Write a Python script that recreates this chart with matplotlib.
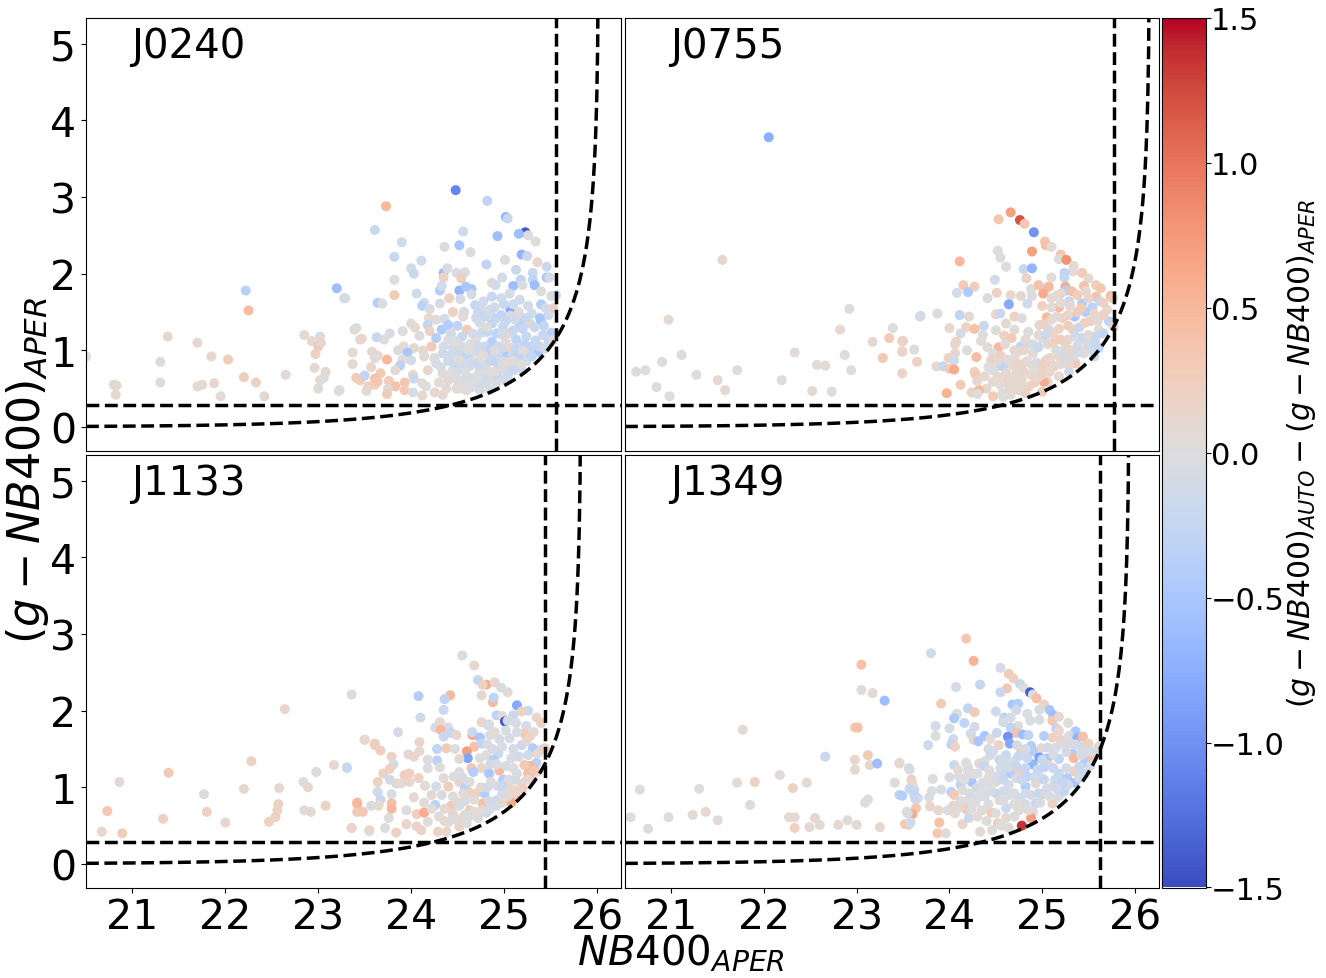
import numpy as np
from matplotlib import pyplot as plt
from matplotlib.cm import ScalarMappable
from matplotlib.colors import Normalize

# values: (NB400_APER, colour, colour difference)

j0240_points = [
 (20.5,.92,.05),(20.8,.55,.1),(20.83,.54,.1),(20.82,.42,.1),(21.3,.85,-.05),(21.3,.58,.02),(21.38,1.18,.1),
 (21.7,1.1,.1),(21.7,.53,.1),(21.75,.55,.1),(21.85,.92,.1),(21.88,.57,.15),(21.95,.4,.05),(22.03,.88,.25),
 (22.2,.65,.25),(22.22,1.78,-.35),(22.25,1.52,.45),(22.33,.58,.2),(22.42,.4,.1),(22.65,.68,.05),(22.85,1.2,.1),
 (22.93,1.12,.1),(23.0,.5,.05),(23.02,1.18,-.05),(23.0,1.05,.3),(23.03,1.1,.15),(22.97,.95,.2),(23.08,.72,.1),
 (23.39,1.27,.1),(23.45,1.14,.05),(23.58,.98,.1),(23.64,.93,.15),(23.67,.7,.3),(23.45,.61,.3),(23.61,.55,.2),
 (23.23,.48,0),(23.02,.61,.1),(23.37,.97,.05),(22.96,.77,.1),(23.28,1.68,-.1),
 (24.48,3.09,-1.1),(23.73,2.88,.5),(24.82,2.95,-.3),(25.02,2.74,-.7),(25.04,2.72,-.2),(25.23,2.54,-1.4),
 (25.16,2.52,-.6),(25.26,2.5,0),(25.34,2.42,0),(24.93,2.49,-.6),(24.56,2.55,-.15),(23.61,2.57,-.2),(23.9,2.41,-.15),
 (24.36,2.35,-.03),(24.52,2.37,-.5),(24.64,2.28,0),(23.82,2.22,-.2),(24.11,2.17,-.15),(24.0,2.07,-.1),(24.03,2.0,-.2),
 (25.19,2.25,-.7),(25.25,2.23,-.2),(25.01,2.18,0),(25.36,2.15,.15),(24.81,2.12,-.3),(25.46,2.09,-.2),(25.13,2.05,-.2),
 (24.35,2.01,-.6),(24.39,2.07,-.05),(24.49,2.01,-.05),(24.58,2.02,-.05),(24.35,1.95,.2),(24.54,1.94,.25),(23.82,1.92,0),
 (25.31,2.01,-.2),(25.31,1.92,-.3),(25.46,1.95,-.5),(25.49,1.95,-.1),(25.18,1.92,-.3),(24.98,1.95,-.1),(24.87,1.88,.1),
 (24.91,1.85,-.15),(25.1,1.84,-.6),(25.2,1.85,0),(25.33,1.85,-.6),(23.2,1.81,-.6),(23.29,1.68,-.1),(23.82,1.72,.3),
 (23.64,1.62,-.4),(23.69,1.61,0),(24.06,1.74,-.15),(24.31,1.78,-.4),(24.33,1.84,-.15),(24.52,1.78,-.7),(24.59,1.83,-.5),
 (24.65,1.8,-.5),(24.65,1.73,-.1),(24.41,1.68,.2),(24.53,1.67,-.1),(24.14,1.62,-.1),(24.12,1.58,-.35),(24.2,1.54,-.05),
 (24.31,1.61,-.05),(24.45,1.5,.2),(24.57,1.5,-.1),(24.56,1.44,.05),(24.69,1.59,-.2),(24.78,1.64,-.15),(24.87,1.7,-.2),
 (24.97,1.68,-.15),(25.06,1.74,-.1),(25.17,1.66,-.15),(25.4,1.77,0),(25.51,1.71,0),(25.56,1.72,-.1),(25.4,1.6,-.4),
 (25.53,1.55,.2),(25.07,1.53,-.8),(24.85,1.53,-.1),(24.76,1.53,-.1),(24.97,1.46,-.3),(25.07,1.45,-.05),(25.17,1.44,.05),
 (25.3,1.48,-.15),(25.39,1.42,-.5),(25.4,1.37,-.5),(25.48,1.46,-.15),(24.74,1.36,-.1),(24.87,1.35,-.3),(24.99,1.31,-.2),
 (25.17,1.35,-.35),(25.28,1.35,.1),(24.19,1.42,.1),(24.27,1.4,.05),(24.36,1.41,-.1),(24.0,1.35,0),(24.04,1.3,.1),
 (24.18,1.33,-.25),(24.4,1.33,-.4),(24.5,1.32,-.3),(24.33,1.27,-.45),(24.2,1.25,.2),(24.6,1.27,.3),(23.41,1.29,0),
 (23.47,1.15,.15),(23.63,1.17,-.2),(23.71,1.14,0),(23.77,1.22,-.05),(23.91,1.25,0),(24.09,1.19,-.02),(24.27,1.16,-.4),
 (24.4,1.14,-.05),(24.43,1.22,-.1),(24.55,1.18,-.2),(24.7,1.16,0),(24.87,1.11,-.4),(25.05,1.22,.1),(25.13,1.14,-.3),
 (25.24,1.18,-.2),(25.51,1.23,-.35),(25.48,1.11,-.2),(25.53,1.13,0),(24.22,1.05,.3),(23.86,1.0,-.05),(23.92,1.05,.05),
 (24.03,1.03,.1),(23.96,.97,-.5),(24.13,1.0,.1),(24.14,.92,.05),(23.91,.88,.05),(24.0,.87,-.1),(23.61,.9,0),(23.74,.88,.5),
 (23.37,.82,.1),(23.57,.78,.15),(23.88,.8,-.35),(23.83,.74,.1),(24.18,.74,.15),(23.5,.67,-.3),(23.41,.64,.3),(23.61,.63,.4),
 (23.64,.59,.35),(23.76,.6,.25),(23.83,.53,.4),(23.93,.58,.35),(23.93,.48,.3),(24.02,.68,.1),(24.03,.63,-.2),(23.54,.53,.2),
 (23.52,.47,.1),(23.75,.5,.05),(23.74,.43,.3),(23.22,.47,0),(23.06,.64,0),(24.12,.57,.05),(24.16,.53,0),(24.02,.45,-.05),
 (24.12,.41,.1),(24.255,.45,.1),(24.34,.42,.1),(24.27,.83,-.1),(24.34,.96,-.15),(24.43,.94,-.15),(24.52,.96,-.2),
 (24.61,.93,-.3),(24.7,.98,-.1),(24.78,.96,.1),(24.88,.94,-.2),(24.97,.96,-.2),(25.04,.93,-.45),(25.17,1.03,.1),
 (25.26,.97,.1),(25.37,.98,-.5),(25.13,.84,.4),(25.21,.92,-.2),(25.19,.75,-.2),(25.06,.79,-.1),(24.95,.74,-.15),
 (24.85,.7,.1),(24.74,.74,-.15),(24.63,.79,-.1),(24.52,.74,-.1),(24.45,.74,-.05),(24.34,.7,.1),(24.4,.61,.05),(24.51,.57,.02),
 (24.6,.66,-.1),(24.7,.57,-.15),(24.81,.57,-.05),(24.92,.57,-.1),(25.04,.66,-.15),(24.49,.5,.05),(24.6,.48,.05),(24.74,.48,-.1),(24.85,.48,-.05),
]

j0240_dense = [
 (24.3,.58,.05),(24.38,.5,.05),(24.45,.64,.02),(24.55,.5,.02),(24.57,.58,-.05),(24.65,.52,-.02),(24.68,.64,-.1),(24.76,.56,-.1),
 (24.8,.66,-.15),(24.88,.62,-.05),(24.92,.68,-.2),(25.0,.62,-.1),(25.02,.74,-.15),(25.1,.74,-.2),(25.14,.92,-.1),(25.24,.86,-.1),
 (25.3,.92,-.25),(25.38,1.05,-.2),(25.44,1.02,-.15),(24.25,.9,-.02),(24.32,.78,-.05),(24.4,.86,-.15),(24.47,.84,-.2),(24.55,.84,-.1),
 (24.58,1.04,-.1),(24.65,.86,-.15),(24.72,.82,-.2),(24.8,.82,-.1),(24.85,.86,-.2),(24.92,.84,-.25),(24.98,.86,-.1),(25.03,.84,.05),
 (25.09,.94,-.2),(25.15,.92,-.3),(25.3,1.05,-.3),(24.35,1.05,-.1),(24.45,1.03,-.1),(24.52,1.07,-.05),(24.64,1.08,-.02),(24.72,1.06,-.15),
 (24.8,1.05,-.2),(24.86,1.02,-.35),(24.94,1.05,-.2),(25.0,1.04,-.15),(25.07,1.03,.1),(25.13,1.02,-.25),(25.22,1.08,-.3),(25.34,1.13,-.2),
 (25.42,1.2,-.2),(24.66,1.22,-.1),(24.76,1.23,-.15),(24.82,1.24,-.25),(24.92,1.22,-.3),(24.98,1.2,-.15),(25.1,1.26,-.2),(25.2,1.28,-.25),
 (25.33,1.3,-.2),(25.43,1.32,-.25),(24.7,1.42,-.15),(24.8,1.44,-.2),(24.86,1.46,-.15),(24.92,1.42,-.25),(25.02,1.38,-.2),(25.12,1.4,-.15),
 (25.24,1.42,-.2),(24.72,1.5,-.2),(24.9,1.56,-.15),(25.0,1.6,-.2),(25.1,1.6,-.15),(25.26,1.58,-.1),(25.45,1.55,-.1),
 (24.42,.68,.02),(24.5,.62,0),(24.58,.72,-.02),(24.66,.58,.02),(24.72,.68,0),(24.82,.74,.02),(24.9,.72,.05),(24.98,.78,-.02),(25.1,.86,.02),
 (25.18,.82,0),(24.5,.88,0),(24.62,1.0,0),(24.75,.9,.02),(24.9,1.0,0),(25.02,1.1,.05),(25.2,1.0,0),(24.48,1.12,0),(24.82,1.3,0),(25.16,1.5,0),
]

j0755_points = [
 (22.05,3.78,-.75),(21.55,2.18,.1),(20.97,1.4,.1),(20.62,.72,-.02),(20.72,.74,-.02),(20.9,.85,.02),(21.11,.94,.02),
 (20.84,.52,0),(20.98,.4,.05),(21.27,.68,.02),(21.5,.61,.1),(21.58,.48,.1),(21.71,.74,0),(22.19,.61,.05),(22.33,.97,.05),
 (22.57,.81,.05),(22.66,.8,.05),(22.52,.47,.1),(22.73,.46,.05),(22.82,1.27,.1),(22.94,.74,-.02),(22.87,.94,0),(22.92,1.54,.02),
 (23.17,1.11,.1),(23.28,.9,.35),(23.35,1.16,.3),(23.39,1.29,0),(23.49,1.12,.3),(23.49,.98,.2),(23.49,.7,.15),(23.68,1.44,.02),(23.65,.85,.2),
 (24.66,2.8,.7),(24.53,2.71,.35),(24.76,2.7,1.2),(24.81,2.65,.35),(24.91,2.54,-1.0),(25.03,2.42,.35),(25.04,2.37,.4),(25.1,2.35,.05),
 (24.89,2.29,.7),(24.52,2.3,0),(24.55,2.21,0),(24.11,2.16,.5),(24.61,2.09,-.02),(24.8,2.06,-.2),(24.89,2.07,-.7),(25.2,2.25,.35),
 (25.18,2.19,0),(25.26,2.18,.8),(25.34,2.1,.1),(25.33,2.03,.05),(25.43,2.01,.3),(25.24,2.01,-.3),(25.24,1.95,-.25),(24.83,1.94,.2),
 (25.1,1.95,.05),(24.49,1.92,-.1),(25.5,1.94,.1),(24.15,1.85,.3),(24.27,1.83,.25),(24.08,1.75,-.1),(24.2,1.76,-.45),(24.41,1.68,0),
 (24.51,1.75,.2),(24.66,1.72,.15),(24.77,1.71,.1),(24.89,1.71,.03),(24.88,1.8,0),(24.96,1.85,.4),(25.04,1.8,-.3),(25.07,1.83,.5),
 (25.01,1.74,.6),(25.25,1.83,.6),(25.26,1.78,-.4),(25.32,1.77,.4),(25.45,1.84,.4),(25.58,1.85,.25),(25.63,1.81,.35),(25.74,1.71,.45),
 (25.76,1.68,.35),(25.47,1.77,.1),(25.58,1.7,.4),(24.64,1.6,-.8),(24.84,1.61,-.15),(25.0,1.58,.2),(25.18,1.56,.5),(25.29,1.64,-.2),
 (25.43,1.61,-.4),(25.62,1.64,-.2),(25.54,1.56,-.3),(25.47,1.5,-.4),(25.35,1.44,-.5),(25.7,1.53,.1),(23.69,1.45,-.1),(23.87,1.48,0),
 (24.11,1.46,-.3),(24.21,1.44,.1),(24.5,1.47,.15),(24.55,1.48,-.2),(24.7,1.44,.2),(24.78,1.42,-.02),(25.05,1.43,.5),(24.61,1.35,.1),
 (24.37,1.32,-.2),(24.0,1.29,.1),(24.18,1.3,.2),(24.27,1.28,.4),(24.12,1.22,-.1),(24.36,1.2,0),(24.5,1.26,.02),(24.7,1.27,.05),
 (24.85,1.24,0),(24.97,1.33,.1),(25.07,1.27,-.2),(25.22,1.42,.2),(25.33,1.27,.2),(25.52,1.38,.2),(25.72,1.38,-.3),(25.77,1.31,.2),
 (25.61,1.27,.05),(25.43,1.16,-.2),(24.59,1.19,.2),(24.67,1.16,.3),(24.34,1.12,0),(24.07,1.11,.2),(24.06,1.08,.15),(23.5,1.12,.2),
 (23.49,.99,.15),(23.62,1.01,0),(24.77,1.05,-.3),(24.84,1.08,-.15),(25.0,1.16,0),(24.41,1.04,.05),(24.53,1.04,.5),(24.19,1.0,.02),
 (24.47,.96,0),(24.06,.96,.15),(24.29,.91,.45),(24.55,.93,.2),(23.99,.9,.2),(24.05,.87,-.15),(24.45,.87,.2),(24.7,.9,.1),(24.9,.96,.05),
 (25.15,1.0,-.05),(25.25,1.05,.1),(25.54,1.09,.1),(25.61,1.03,-.3),(23.86,.79,.1),(23.93,.79,-.2),(24.0,.76,.3),(24.05,.75,.6),
 (24.54,.8,-.3),(24.58,.79,-.3),(24.47,.74,-.05),(24.27,.72,.2),(24.28,.69,.3),(24.61,.7,.1),(24.82,.84,.2),(25.04,.87,.2),(25.36,.83,.3),
 (25.45,.96,0),(25.56,.92,-.2),(25.31,.92,.1),(25.13,.79,.2),(24.97,.74,.05),(24.9,.79,0),(24.72,.7,.1),(25.29,.72,-.15),(25.18,.66,.1),
 (25.06,.59,.05),(25.02,.59,.6),(24.86,.53,.2),(24.82,.44,.2),(25.0,.46,.3),(24.72,.57,.05),(24.61,.59,.2),(24.47,.59,.1),(24.4,.5,.1),
 (24.12,.55,.3),(23.97,.44,.55),(24.24,.45,.2),(24.32,.48,.5),(24.3,.43,0),(24.47,.4,.3),(24.57,.44,0),(24.58,.39,0),
]

j0755_dense = [
 (24.66,.62,.1),(24.78,.62,.1),(24.8,.72,.15),(24.88,.68,.1),(24.92,.58,.2),(24.95,.64,.15),(25.0,.68,.2),(25.08,.72,.1),(25.1,.82,.1),
 (25.2,.82,.05),(25.24,.86,-.1),(25.28,.82,.1),(25.34,.92,-.05),(25.4,.98,-.1),(25.48,1.02,.1),(25.52,1.02,-.15),(25.58,1.08,-.2),
 (24.68,.8,.1),(24.75,.82,.15),(24.84,.86,.05),(24.94,.84,-.05),(25.0,.8,.2),(25.08,.9,.15),(25.18,.92,.1),(25.22,.96,-.1),(25.3,1.0,.15),
 (25.38,1.06,-.1),(25.48,1.12,-.15),(24.74,.98,.05),(24.8,1.0,.15),(24.9,1.08,-.1),(24.96,1.04,-.2),(25.06,1.08,.1),(25.12,1.1,.2),
 (25.2,1.14,.25),(25.28,1.14,.15),(25.36,1.18,-.15),(25.5,1.2,.1),(25.58,1.18,-.2),(25.66,1.22,-.25),(24.96,1.2,.1),(25.04,1.2,-.2),
 (25.12,1.22,.15),(25.18,1.28,.2),(25.28,1.32,.25),(25.4,1.3,-.2),(25.46,1.36,.2),(25.6,1.38,.05),(25.66,1.46,.2),(25.02,1.34,.2),
 (25.1,1.4,.1),(25.16,1.44,.05),(25.28,1.46,.15),(25.38,1.5,.25),(25.56,1.48,.15),(25.1,1.56,.05),(25.2,1.62,.05),(25.1,1.68,.1),
 (25.16,1.72,.05),(25.38,1.72,.25),(25.5,1.68,.15),(25.66,1.62,.2),(25.3,1.58,.1),(25.42,1.55,.3),(25.2,1.74,.1),
 (24.38,.66,.1),(24.52,.66,.1),(24.65,.5,.1),(24.55,.55,.05),(24.42,.78,.02),(24.52,.86,.1),(24.62,.88,.05),(24.3,.6,.15),(24.66,.42,.05),
 (24.75,.48,.15),(24.78,.52,.1),(24.7,1.0,.1),(24.6,1.08,.05),(24.82,1.14,.05),
]

j1133_points = [
 (20.67,.42,.15),(20.73,.69,.35),(20.89,.4,.25),(20.86,1.07,.05),(21.33,.59,.2),(21.39,1.19,.3),(21.77,.91,.02),(21.8,.68,.2),
 (22.0,.54,.15),(22.2,.98,.1),(22.28,1.34,.2),(22.47,.55,.2),(22.54,.61,.2),(22.57,.78,.2),(22.56,.7,.2),(22.58,.99,.1),(22.64,2.02,.15),
 (22.85,.7,.05),(22.92,.68,.1),(22.98,1.2,-.02),(22.84,1.07,.02),(22.89,1.0,.1),(23.08,.76,.2),(23.17,1.29,.1),(23.31,1.25,-.1),
 (23.36,2.21,.05),(23.36,.47,.1),(23.42,.78,.4),(23.42,.68,.3),(23.5,1.62,-.1),(23.55,.44,.1),(23.61,1.55,.2),
 (24.55,2.72,-.05),(24.68,2.59,.1),(24.72,2.4,-.25),(24.81,2.34,.6),(24.77,2.34,.2),(24.9,2.37,.15),(24.97,2.3,-.05),(25.04,2.24,.05),
 (24.76,2.2,.1),(24.08,2.19,-.4),(24.42,2.2,.5),(24.36,2.15,-.3),(24.88,2.11,.5),(24.89,2.17,-.3),(25.14,2.07,-.8),(24.35,2.01,-.2),
 (25.26,2.0,-.2),(25.35,1.91,.15),(25.4,1.84,.2),(25.19,1.99,.2),(25.1,1.94,-.2),(24.1,1.91,-.15),(24.92,1.94,-.3),(24.98,1.93,.05),
 (25.01,1.86,-1.4),(25.04,1.87,-.1),(24.31,1.85,.1),(24.76,1.85,.15),(24.83,1.81,-.2),(25.13,1.84,-.1),(25.24,1.8,-.1),(24.26,1.78,-.1),
 (24.4,1.78,-.05),(24.32,1.75,.5),(23.86,1.72,-.1),(23.5,1.62,.1),(24.43,1.71,-.25),(24.49,1.68,.1),(24.35,1.66,-.2),(24.66,1.68,.6),
 (24.66,1.72,-.2),(24.74,1.65,-.5),(24.85,1.68,-.05),(24.95,1.63,-.1),(25.06,1.64,-.1),(25.22,1.7,.3),(25.28,1.67,.2),(23.61,1.57,.25),
 (23.67,1.48,.25),(24.09,1.59,.15),(24.68,1.53,.4),(24.76,1.57,-.3),(24.38,1.51,.3),(24.47,1.5,-.02),(24.28,1.5,-.3),(24.09,1.47,.05),
 (23.97,1.43,.1),(24.03,1.4,.15),(23.79,1.4,.2),(24.6,1.47,.7),(24.61,1.38,-.85),(24.52,1.37,.1),(24.28,1.35,-.35),(24.18,1.36,0),
 (23.31,1.26,-.2),(23.81,1.3,-.1),(23.77,1.24,.2),(24.18,1.25,0),(24.31,1.26,.02),(24.81,1.42,.02),(24.94,1.44,-.2),(24.89,1.36,-.4),
 (25.08,1.38,-.05),(25.19,1.55,-.2),(25.31,1.51,-.4),(25.4,1.49,-.1),(25.44,1.51,.2),(25.35,1.32,-.35),(25.28,1.28,.5),(25.22,1.29,.3),
 (24.65,1.25,.35),(24.76,1.25,.15),(24.95,1.22,.5),(24.84,1.18,-.5),(25.1,1.25,.05),(25.26,1.18,.45),(23.7,1.18,.2),(23.93,1.16,.25),
 (23.98,1.18,.25),(24.08,1.12,.2),(24.52,1.2,-.05),(24.67,1.2,-.4),(23.64,1.07,.2),(23.77,1.1,-.15),(23.84,1.05,.1),(23.89,1.05,.05),
 (23.98,1.07,.15),(24.15,1.02,.05),(24.27,1.01,-.1),(24.4,1.01,.25),(24.52,1.07,.2),(24.58,.99,-.35),(24.63,1.07,0),(24.86,1.07,0),
 (24.99,1.1,-.4),(25.06,.99,.15),(25.19,1.05,.05),(23.64,.94,-.15),(23.79,.91,-.03),(24.03,.87,.1),(24.33,.9,-.05),(23.67,.84,-.2),
 (24.63,.93,.2),(24.7,.92,.2),(24.79,.92,-.4),(24.92,.83,-.2),(25.13,.88,.2),(25.08,.8,.6),(23.42,.8,.5),(23.79,.79,.4),(23.79,.72,.5),
 (23.57,.76,-.03),(23.48,.68,.35),(23.65,.76,.1),(23.95,.7,-.02),(24.14,.8,.05),(24.26,.77,-.35),(24.43,.76,.3),(24.49,.81,.15),
 (24.77,.79,.4),(24.63,.7,.3),(24.81,.67,-.2),(24.06,.65,.25),(24.14,.67,.6),(24.45,.66,.15),(24.58,.64,-.02),(24.72,.6,-.05),(23.76,.6,.02),
 (23.95,.52,.15),(23.36,.47,.15),(23.55,.43,.1),(23.72,.47,.02),(23.84,.41,.2),(24.06,.49,.15),(24.11,.44,.2),(24.18,.55,.05),
 (24.29,.42,.2),(24.38,.42,.15),(24.52,.49,.2),(24.6,.53,0),
]

j1133_dense = [
 (24.4,.54,.05),(24.48,.58,.05),(24.55,.6,.1),(24.62,.62,-.02),(24.68,.68,.05),(24.76,.7,.05),(24.85,.72,-.05),(24.92,.76,-.1),(24.98,.8,.1),
 (25.04,.88,.1),(25.12,.96,.15),(25.2,.98,.2),(25.3,1.1,.25),(25.36,1.2,.1),(24.36,.72,.1),(24.52,.76,-.05),(24.58,.82,-.05),(24.68,.84,.02),
 (24.84,.82,-.1),(24.98,.92,-.05),(25.05,1.1,0),(25.12,1.1,-.1),(25.25,1.1,.1),(25.32,1.22,.35),(24.56,.92,.05),(24.75,1.0,.1),(24.82,1.0,-.1),
 (24.92,1.02,-.05),(24.98,1.02,-.2),(25.14,1.18,-.05),(25.02,1.28,-.05),(24.85,1.3,-.1),(24.92,1.3,-.05),(24.74,1.38,0),(25.16,1.4,-.1),
 (25.26,1.42,-.15),(25.36,1.44,.1),(24.88,1.5,-.1),(24.98,1.53,-.05),(25.1,1.5,-.1),(25.24,1.6,.1),(24.82,1.56,-.05),(25.02,1.74,-.05),(25.14,1.72,-.1),
 (24.9,1.72,.05),(24.84,1.82,-.05),(25.32,1.72,.1),
 (24.22,.72,.05),(24.3,.62,.05),(24.36,.56,.1),(24.45,.88,.02),(24.22,.9,.1),(24.35,1.12,.05),(24.46,1.14,.02),(24.56,1.12,-.05),(24.45,.6,-.05),
]

j1349_points = [
 (20.56,.61,.05),(20.66,.97,-.02),(20.75,.46,.02),(20.97,.61,.02),(21.23,.64,.1),(21.3,.98,.02),(21.37,.68,.1),(21.5,.57,.05),
 (21.71,1.06,.05),(21.77,1.75,.05),(21.85,.77,.05),(21.9,1.07,.2),(22.17,1.16,.05),(22.27,.61,.05),(22.33,.61,.1),(22.31,.99,.2),
 (22.33,.47,.2),(22.46,1.06,.1),(22.49,.48,.1),(22.55,.6,.15),(22.6,.51,.1),(22.66,1.4,-.2),(22.8,.51,.1),(22.9,.57,.05),(22.98,1.78,.3),
 (23.0,.51,.05),(23.05,2.6,.4),(23.05,2.27,.05),(23.01,1.78,.4),(22.98,1.36,.15),(22.98,1.23,.1),(23.09,.8,.05),(23.12,1.42,.3),
 (23.17,2.23,.05),(23.14,1.29,.15),(23.22,1.31,-.6),(23.25,.48,.1),(23.3,2.13,-.6),(23.12,.84,.05),(23.41,1.06,.05),(23.46,.9,-.3),
 (23.46,1.32,-.05),(23.57,1.23,.05),(23.59,1.1,.2),(23.62,.97,-.2),(23.54,.68,.1),(23.56,.51,.1),(23.66,.86,-.1),
 (24.18,2.94,.35),(23.8,2.75,-.15),(24.26,2.65,.55),(24.55,2.56,-.1),(24.64,2.48,.25),(24.69,2.42,.2),(24.76,2.35,-.2),(24.8,2.3,.02),
 (24.62,2.29,.35),(24.55,2.24,-.2),(24.87,2.24,-1.4),(24.9,2.21,-.05),(24.94,2.16,.4),(25.02,2.08,.2),(24.07,2.31,-.1),(24.33,2.34,-.25),
 (23.91,2.09,.3),(24.2,2.03,-.3),(24.27,1.98,.3),(24.08,1.96,-.03),(24.5,1.99,-.15),(24.68,2.08,-.5),(24.74,2.09,-.4),(24.72,2.01,-.15),
 (24.84,1.96,-.03),(25.08,2.01,-.5),(25.12,1.94,-.6),(24.97,2.01,-.05),(24.59,1.91,-.3),(24.66,1.91,-.05),(24.05,1.9,-.45),(24.16,1.84,-.3),
 (24.58,1.85,-.1),(24.87,1.87,-.03),(24.97,1.88,-.03),(25.11,1.87,.35),(25.18,1.92,.1),(25.28,1.84,.02),(23.85,1.8,-.1),(24.0,1.77,-.1),
 (24.27,1.79,-.1),(24.74,1.8,-.02),(24.66,1.78,-.3),(25.15,1.77,-.3),(25.36,1.73,-.45),(25.18,1.74,.15),(23.85,1.67,.03),(24.04,1.63,-.15),
 (24.23,1.7,-.15),(24.38,1.67,-.5),(24.51,1.71,-.2),(24.72,1.71,.4),(24.79,1.69,-.6),(24.85,1.68,-.3),(24.63,1.66,-1.0),(25.02,1.67,-.4),
 (25.11,1.65,.2),(25.29,1.67,-.03),(25.38,1.65,-.7),(25.44,1.66,.4),(23.77,1.55,-.15),(24.02,1.56,-.3),(24.06,1.53,.2),(24.26,1.62,.15),
 (24.31,1.6,-.5),(24.44,1.63,.05),(24.65,1.57,-.8),(24.53,1.55,.2),(24.73,1.55,-.1),(24.88,1.54,-.4),(24.99,1.51,.1),(25.2,1.62,.15),
 (25.29,1.57,.05),(25.42,1.53,-.15),(25.5,1.57,.2),(25.61,1.53,.1),(24.42,1.5,-.1),(24.47,1.47,-.1),(24.61,1.42,-.2),(24.77,1.45,.2),
 (24.9,1.47,-.4),(24.97,1.39,-.9),(24.9,1.3,-.7),(25.06,1.38,-.5),(25.18,1.37,-.3),(25.33,1.44,-.4),(25.34,1.38,.5),(25.52,1.39,.4),
 (25.58,1.47,-.1),(25.46,1.32,-.4),(24.05,1.29,-.2),(23.46,1.31,.1),(23.56,1.25,-.1),(24.2,1.26,-.05),(24.32,1.31,.1),(24.38,1.34,.05),
 (24.37,1.28,-.25),(24.54,1.36,-.2),(24.68,1.33,-.03),(24.09,1.23,.05),(24.0,1.13,-.05),(23.82,1.11,-.02),(24.2,1.2,-.03),(24.3,1.18,0),
 (24.43,1.22,.03),(24.57,1.18,-.15),(24.66,1.18,-.4),(24.75,1.2,.25),(24.84,1.14,-.3),(24.97,1.14,-.1),(25.07,1.29,.2),(25.18,1.18,-.2),
 (25.34,1.21,.2),(25.27,1.12,-.4),(23.6,1.04,.1),(23.57,.98,-.2),(23.49,.89,-.4),(23.62,.9,-.25),(23.63,.85,-.2),(23.81,.95,-.02),
 (23.91,.97,-.02),(23.78,.87,-.05),(24.24,1.07,-.5),(24.12,1.03,-.3),(24.02,.94,-.35),(24.05,.9,.3),(24.14,.96,.05),(24.29,.99,-.1),
 (24.5,1.07,.1),(24.64,1.03,-.1),(24.82,1.01,-.4),(24.93,1.05,.1),(25.11,1.01,.05),(25.35,1.06,-.5),(25.42,1.18,-.1),(23.64,.73,.35),
 (23.6,.65,.6),(23.55,.66,-.05),(23.79,.75,.15),(23.88,.7,.1),(23.98,.7,-.05),(24.04,.76,.15),(24.13,.77,.2),(24.2,.83,.05),(24.18,.71,.25),
 (24.35,.7,.03),(24.38,.88,-.05),(24.5,.92,-.2),(24.54,.83,.15),(24.7,.92,-.05),(25.0,.91,.35),(25.18,.88,-.05),(25.11,.79,.2),(24.45,.67,.3),
 (24.61,.73,-.2),(24.75,.7,.05),(24.93,.79,-.2),(24.9,.68,.02),(24.88,.6,.7),(24.78,.5,1.35),(23.89,.54,.4),(23.52,.52,.3),(23.58,.54,-.15),
 (23.87,.4,.35),(23.96,.4,.05),(24.06,.66,.05),(24.14,.52,.15),(24.21,.6,-.2),(24.33,.42,.1),(24.46,.44,.02),(24.52,.53,.2),(24.64,.47,.02),(24.61,.6,.1),
]

j1349_dense = [
 (24.42,.78,-.02),(24.3,.86,-.05),(24.22,.92,-.1),(24.45,.95,-.1),(24.58,.95,-.15),(24.65,.9,-.05),(24.76,.86,-.1),(24.82,.92,-.15),(24.88,.9,-.1),
 (24.96,.92,-.2),(25.04,.92,-.1),(25.08,.88,-.02),(25.24,.95,-.25),(25.28,1.03,-.1),(25.4,1.12,-.15),(24.7,.78,.02),(24.82,.78,-.1),(24.98,.8,-.05),
 (24.5,1.14,-.1),(24.58,1.1,-.2),(24.72,1.12,-.1),(24.78,1.1,-.2),(24.92,1.14,-.15),(25.02,1.1,-.2),(25.14,1.1,-.2),(25.22,1.06,-.25),
 (24.36,1.06,-.05),(24.44,1.02,-.02),(24.55,1.25,-.15),(24.64,1.26,-.1),(24.72,1.28,-.2),(24.82,1.25,-.25),(24.95,1.23,-.2),(25.02,1.26,-.3),
 (25.12,1.25,-.2),(25.26,1.25,-.1),(25.4,1.27,-.2),(25.52,1.28,-.1),(25.46,1.18,-.2),(24.58,1.34,-.1),(24.74,1.4,-.2),(24.84,1.38,-.2),(25.0,1.36,-.2),
 (25.12,1.43,-.05),(25.26,1.46,-.1),(25.42,1.42,-.05),(25.52,1.47,-.1),(24.44,1.42,-.1),(24.82,1.5,-.1),(25.06,1.52,-.1),(25.15,1.52,-.05),
 (25.24,1.56,-.05),(25.36,1.56,-.1),(25.48,1.46,-.05),(24.58,.82,-.05),(24.85,.7,.05),(24.72,.8,.02),(25.05,.98,-.1),(25.16,.98,-.15),
 (24.1,1.14,0),(24.16,1.1,-.02),(24.24,1.18,.02),(24.12,.82,-.03),(24.24,.72,.02),(24.3,.62,.05),(24.4,.56,.02),(24.5,.66,-.03),(24.08,.72,.05),
 (24.56,.5,.02),(24.7,.62,0),(24.28,.8,0),(24.42,1.12,0),(24.35,.95,0),(24.18,1.32,0),
]

field_names = ['J0240', 'J0755', 'J1133', 'J1349']
field_points = [j0240_points + j0240_dense, j0755_points + j0755_dense,
                j1133_points + j1133_dense, j1349_points + j1349_dense]
mag_cuts = [25.56, 25.77, 25.44, 25.62]     # vertical line
curve_limits = [26.02, 26.16, 25.83, 25.94]  # where the selection curve diverges
colour_cut = 0.285

W, H = 1326, 979

def box(x0, y0, x1, y1):
  # pixel box -> figure fraction
  return [x0/W, 1-y1/H, (x1-x0)/W, (y1-y0)/H]

panel_boxes = [box(86, 18.7, 621, 451.7), box(625, 18.7, 1159, 451.7),
               box(86, 455.7, 621, 888.7), box(625, 455.7, 1159, 888.7)]

fig = plt.figure(figsize=(W/100, H/100), dpi=100)
norm = Normalize(vmin=-1.5, vmax=1.5)

for i in range(4):
  ax = fig.add_axes(panel_boxes[i])
  pts = np.array(field_points[i])
  ax.scatter(pts[:,0], pts[:,1], c=pts[:,2], s=52, cmap='coolwarm', norm=norm, linewidths=0)

  # selection curve
  mags = np.linspace(20.5, curve_limits[i]-0.002, 600)
  ax.plot(mags, -2.5*np.log10(1-10**(-0.4*(curve_limits[i]-mags))), 'k--', lw=2.5)
  ax.axhline(colour_cut, color='k', ls='--', lw=2.5)
  ax.axvline(mag_cuts[i], color='k', ls='--', lw=2.5)

  ax.set_xlim(20.5, 26.26)
  ax.set_ylim(-0.31, 5.34)
  ax.set_xticks([21, 22, 23, 24, 25, 26])
  ax.set_yticks([0, 1, 2, 3, 4, 5])
  ax.tick_params(labelsize=29.5, labelbottom=i >= 2, labelleft=i % 2 == 0,
                 bottom=i >= 2, left=i % 2 == 0)
  ax.text(0.085, 0.935, field_names[i], transform=ax.transAxes, fontsize=29, va='center')

cax = fig.add_axes(box(1162, 18.5, 1206, 888.5))
cb = fig.colorbar(ScalarMappable(norm=norm, cmap='coolwarm'), cax=cax)
cb.set_ticks([-1.5, -1, -0.5, 0, 0.5, 1, 1.5])
cb.ax.tick_params(labelsize=22, length=3.5, pad=0)

fig.text(1301/W, 1-453/H, r'$(g-NB400)_{AUTO}-(g-NB400)_{APER}$', fontsize=21.5,
         rotation=90, ha='center', va='center')
fig.text(28/W, 1-470/H, r'$(g-NB400)_{APER}$', fontsize=32, rotation=90, ha='center', va='center')
fig.text(681/W, 1-954/H, r'$NB400_{APER}$', fontsize=29, ha='center', va='center')

fig.savefig('out.png', dpi=100)
